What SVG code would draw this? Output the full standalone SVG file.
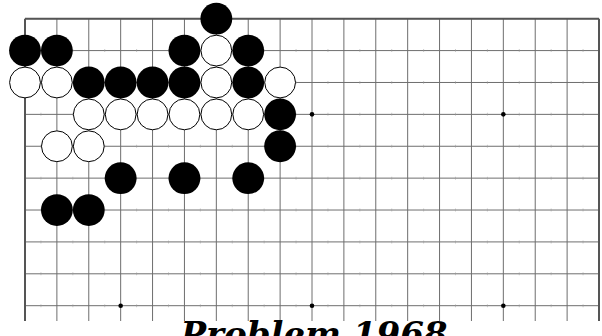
<svg xmlns="http://www.w3.org/2000/svg" width="602" height="336" viewBox="0 0 602 336">
<style>
.g{stroke:#6e6e6e;stroke-width:1;fill:none}
.t{stroke:#9a9a9a;stroke-width:3;fill:none}
.e{stroke:#555;stroke-width:2;fill:none}
.b{fill:#000}
.w{fill:#fff;stroke:#000;stroke-width:1}
.s{fill:#000}
.title{font-family:"DejaVu Serif",serif;font-weight:bold;font-style:italic;font-size:34px;fill:#000}
</style>
<rect width="602" height="336" fill="#fff"/>
<g id="grid">
<path class="g" d="M25,18.7H599M25,50.59H599M25,82.48H599M25,114.37H599M25,146.26H599M25,178.14H599M25,210.03H599M25,241.92H599M25,273.81H599M25,305.7H599"/>
<path class="g" d="M56.89,18.7V321M88.78,18.7V321M120.67,18.7V321M152.56,18.7V321M184.44,18.7V321M216.33,18.7V321M248.22,18.7V321M280.11,18.7V321M312,18.7V321M343.89,18.7V321M375.78,18.7V321M407.67,18.7V321M439.56,18.7V321M471.44,18.7V321M503.33,18.7V321M535.22,18.7V321M567.11,18.7V321"/>
<path class="t" stroke-dasharray="1 30.889" stroke-dashoffset="-15.44" stroke-opacity="0.5" d="M25,50.59H599M25,82.48H599M25,114.37H599M25,146.26H599M25,178.14H599M25,210.03H599M25,241.92H599M25,273.81H599M25,305.7H599"/>
<path class="e" d="M25,18.7H599M25,18.7V321M599,18.7V321"/>
<circle class="s" cx="120.67" cy="114.37" r="2.3"/>
<circle class="s" cx="312" cy="114.37" r="2.3"/>
<circle class="s" cx="503.33" cy="114.37" r="2.3"/>
<circle class="s" cx="120.67" cy="305.7" r="2.3"/>
<circle class="s" cx="312" cy="305.7" r="2.3"/>
<circle class="s" cx="503.33" cy="305.7" r="2.3"/>
</g>
<g id="stones">
<g id="b-6-0"><circle class="b" cx="216.33" cy="18.7" r="15.9"/></g>
<g id="b-0-1"><circle class="b" cx="25" cy="50.59" r="15.9"/></g>
<g id="b-1-1"><circle class="b" cx="56.89" cy="50.59" r="15.9"/></g>
<g id="b-5-1"><circle class="b" cx="184.44" cy="50.59" r="15.9"/></g>
<g id="w-6-1"><circle class="w" cx="216.33" cy="50.59" r="15.4"/></g>
<g id="b-7-1"><circle class="b" cx="248.22" cy="50.59" r="15.9"/></g>
<g id="w-0-2"><circle class="w" cx="25" cy="82.48" r="15.4"/></g>
<g id="w-1-2"><circle class="w" cx="56.89" cy="82.48" r="15.4"/></g>
<g id="b-2-2"><circle class="b" cx="88.78" cy="82.48" r="15.9"/></g>
<g id="b-3-2"><circle class="b" cx="120.67" cy="82.48" r="15.9"/></g>
<g id="b-4-2"><circle class="b" cx="152.56" cy="82.48" r="15.9"/></g>
<g id="b-5-2"><circle class="b" cx="184.44" cy="82.48" r="15.9"/></g>
<g id="w-6-2"><circle class="w" cx="216.33" cy="82.48" r="15.4"/></g>
<g id="b-7-2"><circle class="b" cx="248.22" cy="82.48" r="15.9"/></g>
<g id="w-8-2"><circle class="w" cx="280.11" cy="82.48" r="15.4"/></g>
<g id="w-2-3"><circle class="w" cx="88.78" cy="114.37" r="15.4"/></g>
<g id="w-3-3"><circle class="w" cx="120.67" cy="114.37" r="15.4"/></g>
<g id="w-4-3"><circle class="w" cx="152.56" cy="114.37" r="15.4"/></g>
<g id="w-5-3"><circle class="w" cx="184.44" cy="114.37" r="15.4"/></g>
<g id="w-6-3"><circle class="w" cx="216.33" cy="114.37" r="15.4"/></g>
<g id="w-7-3"><circle class="w" cx="248.22" cy="114.37" r="15.4"/></g>
<g id="b-8-3"><circle class="b" cx="280.11" cy="114.37" r="15.9"/></g>
<g id="w-1-4"><circle class="w" cx="56.89" cy="146.26" r="15.4"/></g>
<g id="w-2-4"><circle class="w" cx="88.78" cy="146.26" r="15.4"/></g>
<g id="b-8-4"><circle class="b" cx="280.11" cy="146.26" r="15.9"/></g>
<g id="b-3-5"><circle class="b" cx="120.67" cy="178.14" r="15.9"/></g>
<g id="b-5-5"><circle class="b" cx="184.44" cy="178.14" r="15.9"/></g>
<g id="b-7-5"><circle class="b" cx="248.22" cy="178.14" r="15.9"/></g>
<g id="b-1-6"><circle class="b" cx="56.89" cy="210.03" r="15.9"/></g>
<g id="b-2-6"><circle class="b" cx="88.78" cy="210.03" r="15.9"/></g>
</g>
<g id="connectors"></g>
<text class="title" x="314" y="346" text-anchor="middle">Problem 1968</text>
</svg>
